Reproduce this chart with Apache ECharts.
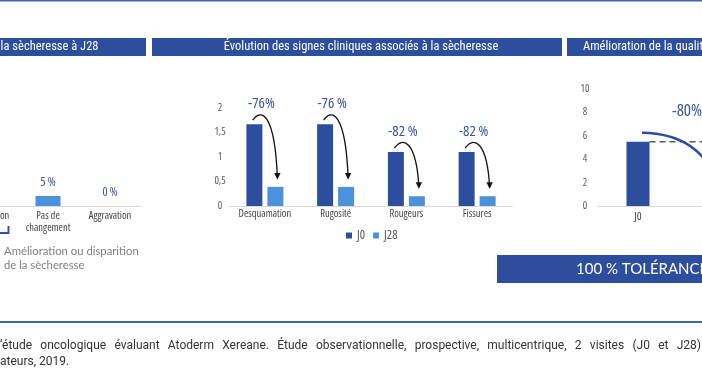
<!DOCTYPE html>
<html>
<head>
<meta charset="utf-8">
<script src="https://cdn.jsdelivr.net/npm/echarts@6/dist/echarts.min.js"></script>
<style>
html,body{margin:0;padding:0;background:#fff;overflow:hidden;width:702px;height:370px;position:relative;}
#chart{position:absolute;top:0;left:-120px;width:892px;height:370px;}
</style>
</head>
<body>
<div id="chart"></div>
<script>
// ---- data ----
const leftCategories = ['Disparition', 'Amélioration', 'Pas de\nchangement', 'Aggravation'];
const leftValues = [35, 60, 5, 0];
const leftLabels = ['35 %', '60 %', '5 %', '0 %'];

const signCategories = ['Desquamation', 'Rugosité', 'Rougeurs', 'Fissures'];
const signJ0 = [1.67, 1.67, 1.1, 1.1];
const signJ28 = [0.39, 0.39, 0.2, 0.2];
const signChange = ['-76%', '-76 %', '-82 %', '-82 %'];
const signTicks = ['0', '0,5', '1', '1,5', '2'];

const qolCategories = ['J0', 'J28'];
const qolValues = [5.5, 1.1];
const qolChange = '-80%';
const qolTicks = ['0', '2', '4', '6', '8', '10'];

const headerTitles = ['la sècheresse à J28', 'Évolution des signes cliniques associés à la sècheresse', 'Amélioration de la qualité de vie'];
const bracketText = 'Amélioration ou disparition\nde la sècheresse';
const bannerText = '100 % TOLÉRANCE';
const footerLine1 = "’étude oncologique évaluant Atoderm Xereane. Étude observationnelle, prospective, multicentrique, 2 visites (J0 et J28)";
const footerLine2 = 'ateurs, 2019.';

// ---- styles ----
const OFF = 120;
const DARK = '#2d4e9d';
const LIGHT = '#4b91dc';
const LBL = '#34539f';

// find a condensed face
function detectCondensed() {
  const c = document.createElement('canvas').getContext('2d');
  const t = 'Desquamation Rugosité 0123456789';
  const m = f => { c.font = f; return c.measureText(t).width; };
  const base = m('20px Roboto');
  const cands = [
    ['condensed', '"Open Sans"'], ['normal', '"Roboto Condensed"'], ['condensed', '"Noto Sans"']
  ];
  let best = {w: 'normal', f: 'Roboto', r: 1};
  for (const [w, f] of cands) {
    const mono = m('20px monospace');
    const x = m(w + ' 20px ' + f + ', monospace');
    const plain = m('20px ' + f + ', monospace');
    const exists = x !== mono || plain !== mono;
    const r = x / base;
    if (exists && r < best.r && r > 0.6) best = {w: w, f: f, r: r};
  }
  return best;
}
const COND = detectCondensed();
const NW = COND.w, NF = COND.f;
const nfont = s => NW + ' ' + s + 'px ' + NF;
const RC = '"Roboto Condensed", Roboto, sans-serif';

const chart = echarts.init(document.getElementById('chart'), null, {renderer: 'canvas'});

function arrowItem(params, api) {
  const i = api.value(0);
  const a = api.coord([i, api.value(1)]);
  const b = api.coord([i, api.value(2)]);
  const cx = a[0];
  const x0 = cx - 12, y0 = a[1] - 4;
  const x3 = cx + 12.5, y3 = b[1] - 9;
  return {
    type: 'group',
    children: [
      {type: 'bezierCurve', shape: {x1: x0, y1: y0, cpx1: cx - 4, cpy1: a[1] - 16, cpx2: cx + 10, cpy2: a[1] - 12, x2: x3, y2: y3},
        style: {stroke: '#111', lineWidth: 1.3, fill: null}},
      {type: 'polygon', shape: {points: [[x3 - 3.2, y3 - 5], [x3 + 3.2, y3 - 5], [x3, y3 + 1.5]]}, style: {fill: '#111'}}
    ]
  };
}

function qolItem(params, api) {
  const a = api.coord([0, api.value(1)]);
  const b = api.coord([1, api.value(2)]);
  return {
    type: 'group',
    children: [
      {type: 'line', shape: {x1: a[0] + 11.5, y1: a[1], x2: b[0] - 11.5, y2: a[1]},
        style: {stroke: '#595959', lineWidth: 1.5, lineDash: [6, 4]}},
      {type: 'bezierCurve', shape: {x1: a[0] + 4, y1: a[1] - 9, cpx1: a[0] + 37, cpy1: a[1] - 8.5, cpx2: b[0] - 13, cpy2: a[1] + 3.5, x2: b[0], y2: b[1] - 8},
        style: {stroke: DARK, lineWidth: 2.5, fill: null}},
      {type: 'text', x: a[0] + 34, y: a[1] - 30,
        style: {text: qolChange, fill: LBL, font: nfont(17), textAlign: 'left', textVerticalAlign: 'middle'}}
    ]
  };
}

function justifiedWords(text, y, width, font) {
  const c = document.createElement('canvas').getContext('2d');
  c.font = font;
  const words = text.split(' ');
  const ws = words.map(w => c.measureText(w).width);
  const total = ws.reduce((s, v) => s + v, 0);
  const gap = Math.max(2, (width - total) / (words.length - 1));
  let x = 0;
  return words.map((w, k) => {
    const el = {type: 'text', x: x, y: y, style: {text: w, font: font, fill: '#333', textVerticalAlign: 'middle'}};
    x += ws[k] + gap;
    return el;
  });
}

const footerFont = '12px Roboto';
const headerFont = '12.5px ' + RC;
const graphics = [
  {type: 'rect', shape: {x: 0, y: 0, width: 702, height: 1.6}, style: {fill: '#4163ad'}},
  {type: 'rect', shape: {x: -5, y: 38, width: 151, height: 18}, style: {fill: DARK}},
  {type: 'rect', shape: {x: 152, y: 38, width: 410, height: 18}, style: {fill: DARK}},
  {type: 'rect', shape: {x: 567, y: 38, width: 150, height: 18}, style: {fill: DARK}},
  {type: 'text', x: 98.5, y: 47, style: {text: headerTitles[0], fill: '#fff', font: headerFont, textAlign: 'right', textVerticalAlign: 'middle'}},
  {type: 'text', x: 361, y: 47, style: {text: headerTitles[1], fill: '#fff', font: headerFont, textAlign: 'center', textVerticalAlign: 'middle'}},
  {type: 'text', x: 583, y: 47, style: {text: headerTitles[2], fill: '#fff', font: headerFont, textAlign: 'left', textVerticalAlign: 'middle'}},
  {type: 'polyline', shape: {points: [[-2, 233], [8.5, 233], [8.5, 226]]}, style: {stroke: LBL, lineWidth: 2, fill: null}},
  {type: 'text', x: 4, y: 258, style: {text: bracketText, fill: '#7f7f7f', font: '11.3px Lato', lineHeight: 14, textVerticalAlign: 'middle'}},
  {type: 'rect', shape: {x: 497, y: 255, width: 230, height: 28}, style: {fill: DARK}},
  {type: 'text', x: 576, y: 269.5, style: {text: bannerText, fill: '#fff', font: '15px Lato', textVerticalAlign: 'middle'}},
  {type: 'rect', shape: {x: 0, y: 321, width: 702, height: 2}, style: {fill: '#4466b0'}},
  {type: 'text', x: 0, y: 362, style: {text: footerLine2, font: footerFont, fill: '#333', textVerticalAlign: 'middle'}}
].concat(justifiedWords(footerLine1, 346, 701, footerFont));

const axisLineStyle = {lineStyle: {color: '#d9d9d9', width: 1}};
const lab = (size, color) => ({fontFamily: NF, fontWeight: NW, fontSize: size, color: color});

chart.setOption({
  animation: false,
  backgroundColor: '#fff',
  legend: {
    data: ['J0', 'J28'], left: 341 + OFF, top: 224, icon: 'rect', itemWidth: 6, itemHeight: 6, itemGap: 8,
    textStyle: lab(12.5, '#555')
  },
  grid: [
    {left: -107 + OFF, top: 6, width: 248, height: 200},
    {left: 229.5 + OFF, top: 108, width: 283, height: 98},
    {left: 598 + OFF, top: 89, width: 160, height: 117}
  ],
  xAxis: [
    {type: 'category', gridIndex: 0, data: leftCategories, axisTick: {show: false}, axisLine: axisLineStyle,
      axisLabel: Object.assign(lab(10.5, '#444'), {interval: 0, margin: 4, lineHeight: 12})},
    {type: 'category', gridIndex: 1, data: signCategories, axisTick: {show: false}, axisLine: axisLineStyle,
      axisLabel: Object.assign(lab(10.5, '#444'), {interval: 0, margin: 3})},
    {type: 'category', gridIndex: 2, data: qolCategories, axisTick: {show: false}, axisLine: axisLineStyle,
      axisLabel: Object.assign(lab(11.5, '#444'), {interval: 0, margin: 5})}
  ],
  yAxis: [
    {type: 'value', gridIndex: 0, min: 0, max: 100, show: false},
    {type: 'value', gridIndex: 1, min: 0, max: 2, interval: 0.5, splitLine: {show: false}, axisLine: {show: false}, axisTick: {show: false},
      axisLabel: Object.assign(lab(10.5, '#595959'), {align: 'center', margin: 9.5, formatter: v => signTicks[Math.round(v / 0.5)]})},
    {type: 'value', gridIndex: 2, min: 0, max: 10, interval: 2, splitLine: {show: false}, axisLine: {show: false}, axisTick: {show: false},
      axisLabel: Object.assign(lab(10.5, '#595959'), {align: 'center', margin: 13, formatter: v => qolTicks[Math.round(v / 2)]})}
  ],
  series: [
    {name: 'Sècheresse', type: 'bar', xAxisIndex: 0, yAxisIndex: 0, data: leftValues, barWidth: 25, itemStyle: {color: LIGHT},
      label: Object.assign(lab(12, LBL), {show: true, position: 'top', distance: 7, formatter: p => leftLabels[p.dataIndex]})},
    {name: 'J0', type: 'bar', xAxisIndex: 1, yAxisIndex: 1, data: signJ0, barWidth: 16, barGap: '31.25%', itemStyle: {color: DARK},
      label: Object.assign(lab(15, LBL), {show: true, position: 'top', offset: [7, -8], formatter: p => signChange[p.dataIndex]})},
    {name: 'J28', type: 'bar', xAxisIndex: 1, yAxisIndex: 1, data: signJ28, barWidth: 16, itemStyle: {color: LIGHT}},
    {name: 'arrows', type: 'custom', xAxisIndex: 1, yAxisIndex: 1, z: 10, clip: false,
      data: signCategories.map((c, i) => [i, signJ0[i], signJ28[i]]), encode: {x: 0, y: [1, 2]}, renderItem: arrowItem},
    {name: 'QdV', type: 'bar', xAxisIndex: 2, yAxisIndex: 2, data: qolValues, barWidth: 23, itemStyle: {color: DARK}},
    {name: 'qolArc', type: 'custom', xAxisIndex: 2, yAxisIndex: 2, z: 10, clip: false,
      data: [[0, qolValues[0], qolValues[1]]], encode: {x: 0, y: [1, 2]}, renderItem: qolItem}
  ],
  graphic: [{type: 'group', x: OFF, y: 0, children: graphics}]
});
</script>
</body>
</html>
